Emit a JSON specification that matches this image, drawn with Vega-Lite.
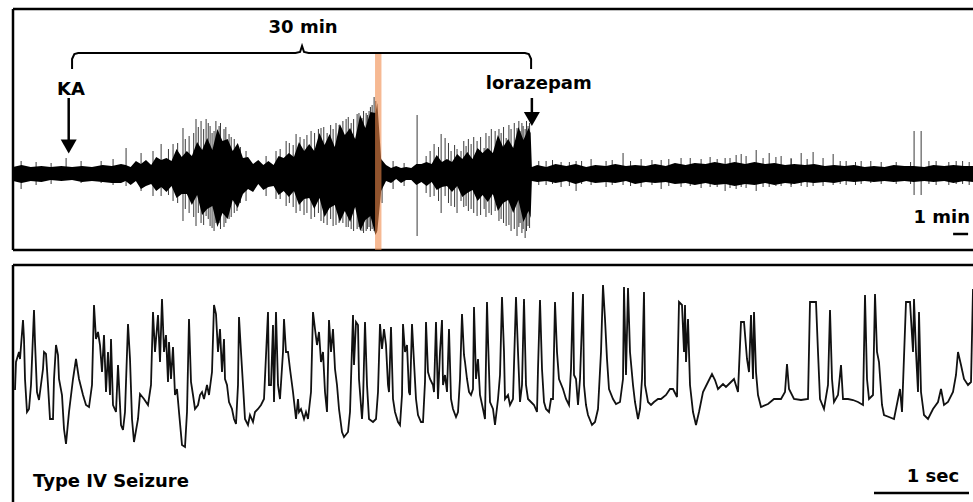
{
  "$schema": "https://vega.github.io/schema/vega-lite/v6.json",
  "background": "white",
  "padding": {"left": 11, "top": 7, "right": 0, "bottom": 0},
  "spacing": 11,
  "config": {"view": {"stroke": null}, "font": "DejaVu Sans"},
  "datasets": {
    "envelope": [
      {"t": -3.86, "hi": 6, "lo": -8}, {"t": -3.3, "hi": 8, "lo": -10}, {"t": -2.7, "hi": 6, "lo": -8}, {"t": -2.0, "hi": 7, "lo": -9},
      {"t": -1.4, "hi": 6, "lo": -7}, {"t": -0.7, "hi": 7, "lo": -8}, {"t": 0.0, "hi": 6, "lo": -7}, {"t": 0.65, "hi": 7, "lo": -9},
      {"t": 1.3, "hi": 6, "lo": -8}, {"t": 2.0, "hi": 8, "lo": -9}, {"t": 2.6, "hi": 7, "lo": -10}, {"t": 3.2, "hi": 9, "lo": -10},
      {"t": 3.5, "hi": 8, "lo": -8}, {"t": 3.83, "hi": 6, "lo": -12}, {"t": 4.17, "hi": 12, "lo": -8}, {"t": 4.5, "hi": 9, "lo": -16},
      {"t": 4.83, "hi": 13, "lo": -13}, {"t": 5.17, "hi": 8, "lo": -11}, {"t": 5.5, "hi": 16, "lo": -18}, {"t": 5.83, "hi": 13, "lo": -14},
      {"t": 6.17, "hi": 15, "lo": -19}, {"t": 6.5, "hi": 12, "lo": -13}, {"t": 6.83, "hi": 24, "lo": -25}, {"t": 7.17, "hi": 16, "lo": -21},
      {"t": 7.5, "hi": 22, "lo": -21}, {"t": 7.83, "hi": 17, "lo": -32}, {"t": 8.17, "hi": 31, "lo": -22}, {"t": 8.5, "hi": 23, "lo": -42},
      {"t": 8.83, "hi": 35, "lo": -36}, {"t": 9.17, "hi": 23, "lo": -33}, {"t": 9.5, "hi": 44, "lo": -54}, {"t": 9.83, "hi": 32, "lo": -40},
      {"t": 10.17, "hi": 34, "lo": -46}, {"t": 10.5, "hi": 22, "lo": -27}, {"t": 10.83, "hi": 30, "lo": -35}, {"t": 11.17, "hi": 15, "lo": -21},
      {"t": 11.5, "hi": 16, "lo": -16}, {"t": 11.83, "hi": 9, "lo": -19}, {"t": 12.17, "hi": 13, "lo": -11}, {"t": 12.5, "hi": 8, "lo": -17},
      {"t": 12.83, "hi": 12, "lo": -14}, {"t": 13.17, "hi": 8, "lo": -13}, {"t": 13.5, "hi": 17, "lo": -22}, {"t": 13.83, "hi": 15, "lo": -18},
      {"t": 14.17, "hi": 20, "lo": -24}, {"t": 14.5, "hi": 16, "lo": -18}, {"t": 14.83, "hi": 31, "lo": -32}, {"t": 15.17, "hi": 22, "lo": -26},
      {"t": 15.5, "hi": 29, "lo": -25}, {"t": 15.83, "hi": 22, "lo": -36}, {"t": 16.17, "hi": 40, "lo": -25}, {"t": 16.5, "hi": 28, "lo": -44},
      {"t": 16.83, "hi": 39, "lo": -35}, {"t": 17.17, "hi": 26, "lo": -32}, {"t": 17.5, "hi": 49, "lo": -49}, {"t": 17.83, "hi": 38, "lo": -38},
      {"t": 18.17, "hi": 45, "lo": -49}, {"t": 18.5, "hi": 34, "lo": -34}, {"t": 18.83, "hi": 58, "lo": -58}, {"t": 19.17, "hi": 45, "lo": -47},
      {"t": 19.5, "hi": 61, "lo": -43}, {"t": 19.83, "hi": 60, "lo": -62}, {"t": 19.95, "hi": 70, "lo": -58}, {"t": 20.2, "hi": 14, "lo": -18},
      {"t": 20.52, "hi": 8, "lo": -8}, {"t": 20.85, "hi": 5, "lo": -10}, {"t": 21.18, "hi": 7, "lo": -6}, {"t": 21.5, "hi": 5, "lo": -10},
      {"t": 21.83, "hi": 6, "lo": -7}, {"t": 22.17, "hi": 5, "lo": -7}, {"t": 22.5, "hi": 9, "lo": -12}, {"t": 22.83, "hi": 9, "lo": -9},
      {"t": 23.17, "hi": 11, "lo": -13}, {"t": 23.5, "hi": 9, "lo": -9}, {"t": 23.83, "hi": 18, "lo": -17}, {"t": 24.17, "hi": 11, "lo": -14},
      {"t": 24.5, "hi": 14, "lo": -13}, {"t": 24.83, "hi": 11, "lo": -19}, {"t": 25.17, "hi": 19, "lo": -13}, {"t": 25.5, "hi": 14, "lo": -24},
      {"t": 25.83, "hi": 21, "lo": -20}, {"t": 26.17, "hi": 14, "lo": -17}, {"t": 26.5, "hi": 25, "lo": -28}, {"t": 26.83, "hi": 20, "lo": -22},
      {"t": 27.17, "hi": 25, "lo": -29}, {"t": 27.5, "hi": 20, "lo": -21}, {"t": 27.83, "hi": 38, "lo": -38}, {"t": 28.17, "hi": 26, "lo": -30},
      {"t": 28.5, "hi": 34, "lo": -27}, {"t": 28.83, "hi": 25, "lo": -40}, {"t": 29.17, "hi": 46, "lo": -27}, {"t": 29.5, "hi": 33, "lo": -49},
      {"t": 29.83, "hi": 45, "lo": -38}, {"t": 29.97, "hi": 40, "lo": -45}, {"t": 30.05, "hi": 6, "lo": -8}, {"t": 30.4, "hi": 8, "lo": -9},
      {"t": 31.0, "hi": 6, "lo": -8}, {"t": 31.6, "hi": 9, "lo": -10}, {"t": 32.3, "hi": 7, "lo": -8}, {"t": 32.9, "hi": 9, "lo": -11},
      {"t": 33.6, "hi": 6, "lo": -8}, {"t": 34.2, "hi": 8, "lo": -10}, {"t": 34.9, "hi": 7, "lo": -9}, {"t": 35.5, "hi": 9, "lo": -10},
      {"t": 36.2, "hi": 7, "lo": -8}, {"t": 36.8, "hi": 8, "lo": -11}, {"t": 37.5, "hi": 7, "lo": -9}, {"t": 38.1, "hi": 9, "lo": -10},
      {"t": 38.8, "hi": 7, "lo": -9}, {"t": 39.4, "hi": 10, "lo": -11}, {"t": 40.1, "hi": 8, "lo": -10}, {"t": 40.7, "hi": 10, "lo": -12},
      {"t": 41.4, "hi": 9, "lo": -10}, {"t": 42.0, "hi": 11, "lo": -12}, {"t": 42.7, "hi": 9, "lo": -11}, {"t": 43.3, "hi": 11, "lo": -13},
      {"t": 44.0, "hi": 9, "lo": -11}, {"t": 44.6, "hi": 11, "lo": -12}, {"t": 45.3, "hi": 9, "lo": -10}, {"t": 45.9, "hi": 10, "lo": -12},
      {"t": 46.6, "hi": 8, "lo": -10}, {"t": 47.2, "hi": 9, "lo": -11}, {"t": 47.9, "hi": 8, "lo": -9}, {"t": 48.5, "hi": 9, "lo": -10},
      {"t": 49.2, "hi": 7, "lo": -9}, {"t": 49.8, "hi": 8, "lo": -10}, {"t": 50.5, "hi": 7, "lo": -8}, {"t": 51.1, "hi": 8, "lo": -9},
      {"t": 51.8, "hi": 6, "lo": -8}, {"t": 52.4, "hi": 7, "lo": -9}, {"t": 53.1, "hi": 6, "lo": -8}, {"t": 53.7, "hi": 8, "lo": -9},
      {"t": 54.4, "hi": 7, "lo": -8}, {"t": 55.0, "hi": 7, "lo": -9}, {"t": 55.7, "hi": 6, "lo": -8}, {"t": 56.3, "hi": 8, "lo": -9},
      {"t": 57.0, "hi": 7, "lo": -8}, {"t": 57.6, "hi": 8, "lo": -10}, {"t": 58.3, "hi": 7, "lo": -8}, {"t": 58.88, "hi": 7, "lo": -9}
    ],
    "spikes": [
      {"t": -3.33, "hi": 12, "lo": -16}, {"t": -2.35, "hi": 11, "lo": -12}, {"t": -1.37, "hi": 10, "lo": -11}, {"t": -0.39, "hi": 15, "lo": -6},
      {"t": 0.59, "hi": 12, "lo": -10}, {"t": 1.9, "hi": 12, "lo": -10}, {"t": 2.68, "hi": 14, "lo": -12}, {"t": 3.53, "hi": 25, "lo": -13},
      {"t": 4.51, "hi": 20, "lo": -18}, {"t": 5.29, "hi": 22, "lo": -23}, {"t": 5.82, "hi": 29, "lo": -23}, {"t": 6.6, "hi": 29, "lo": -28},
      {"t": 7.25, "hi": 45, "lo": -48}, {"t": 7.65, "hi": 37, "lo": -40}, {"t": 8.1, "hi": 54, "lo": -53}, {"t": 8.43, "hi": 52, "lo": -50},
      {"t": 8.76, "hi": 54, "lo": -43}, {"t": 9.02, "hi": 47, "lo": -53}, {"t": 9.28, "hi": 42, "lo": -58}, {"t": 9.61, "hi": 47, "lo": -50},
      {"t": 9.93, "hi": 44, "lo": -54}, {"t": 10.26, "hi": 39, "lo": -46}, {"t": 10.78, "hi": 27, "lo": -38}, {"t": 11.37, "hi": 22, "lo": -28},
      {"t": 12.68, "hi": 17, "lo": -23}, {"t": 13.33, "hi": 22, "lo": -26}, {"t": 13.99, "hi": 32, "lo": -33}, {"t": 14.64, "hi": 39, "lo": -40},
      {"t": 15.16, "hi": 34, "lo": -42}, {"t": 15.62, "hi": 42, "lo": -46}, {"t": 16.27, "hi": 45, "lo": -48}, {"t": 16.67, "hi": 40, "lo": -52},
      {"t": 17.06, "hi": 44, "lo": -53}, {"t": 17.45, "hi": 48, "lo": -50}, {"t": 17.91, "hi": 54, "lo": -54}, {"t": 18.24, "hi": 50, "lo": -56},
      {"t": 18.63, "hi": 59, "lo": -56}, {"t": 18.95, "hi": 55, "lo": -58}, {"t": 19.22, "hi": 60, "lo": -58}, {"t": 19.41, "hi": 62, "lo": -54},
      {"t": 19.61, "hi": 68, "lo": -56}, {"t": 19.74, "hi": 76, "lo": -58}, {"t": 20.26, "hi": 12, "lo": -30}, {"t": 20.98, "hi": 12, "lo": -16},
      {"t": 21.7, "hi": 10, "lo": -13}, {"t": 22.55, "hi": 58, "lo": -63}, {"t": 23.14, "hi": 17, "lo": -20}, {"t": 23.66, "hi": 29, "lo": -23},
      {"t": 24.12, "hi": 39, "lo": -40}, {"t": 24.38, "hi": 35, "lo": -23}, {"t": 24.77, "hi": 22, "lo": -33}, {"t": 25.16, "hi": 24, "lo": -40},
      {"t": 25.42, "hi": 22, "lo": -28}, {"t": 25.75, "hi": 27, "lo": -33}, {"t": 26.08, "hi": 29, "lo": -36}, {"t": 26.47, "hi": 32, "lo": -43},
      {"t": 26.93, "hi": 25, "lo": -36}, {"t": 27.25, "hi": 37, "lo": -40}, {"t": 27.65, "hi": 42, "lo": -38}, {"t": 28.04, "hi": 40, "lo": -46},
      {"t": 28.37, "hi": 35, "lo": -53}, {"t": 28.69, "hi": 44, "lo": -58}, {"t": 29.08, "hi": 45, "lo": -63}, {"t": 29.28, "hi": 42, "lo": -50},
      {"t": 29.48, "hi": 47, "lo": -56}, {"t": 29.61, "hi": 44, "lo": -65}, {"t": 29.8, "hi": 47, "lo": -53}, {"t": 30.98, "hi": 12, "lo": -12},
      {"t": 31.96, "hi": 11, "lo": -14}, {"t": 32.94, "hi": 12, "lo": -18}, {"t": 33.92, "hi": 14, "lo": -12}, {"t": 34.9, "hi": 12, "lo": -14},
      {"t": 36.01, "hi": 20, "lo": -12}, {"t": 37.19, "hi": 14, "lo": -14}, {"t": 38.5, "hi": 13, "lo": -16}, {"t": 39.8, "hi": 15, "lo": -14},
      {"t": 41.11, "hi": 14, "lo": -15}, {"t": 42.16, "hi": 14, "lo": -14}, {"t": 42.68, "hi": 15, "lo": -18}, {"t": 43.4, "hi": 18, "lo": -16},
      {"t": 43.73, "hi": 19, "lo": -14}, {"t": 44.05, "hi": 17, "lo": -15}, {"t": 44.71, "hi": 23, "lo": -18}, {"t": 45.16, "hi": 15, "lo": -14},
      {"t": 45.56, "hi": 20, "lo": -14}, {"t": 46.34, "hi": 17, "lo": -13}, {"t": 46.99, "hi": 15, "lo": -14}, {"t": 47.65, "hi": 20, "lo": -13},
      {"t": 48.04, "hi": 14, "lo": -14}, {"t": 48.43, "hi": 21, "lo": -13}, {"t": 49.08, "hi": 15, "lo": -13}, {"t": 49.74, "hi": 19, "lo": -12},
      {"t": 50.59, "hi": 12, "lo": -12}, {"t": 51.57, "hi": 12, "lo": -11}, {"t": 52.88, "hi": 11, "lo": -11}, {"t": 53.86, "hi": 11, "lo": -11},
      {"t": 55.03, "hi": 42, "lo": -22}, {"t": 55.49, "hi": 42, "lo": -22}, {"t": 56.47, "hi": 12, "lo": -12}, {"t": 57.78, "hi": 12, "lo": -11},
      {"t": 58.63, "hi": 11, "lo": -12},
      {"t": 6.3, "hi": 24, "lo": -22}, {"t": 6.9, "hi": 30, "lo": -30}, {"t": 7.4, "hi": 34, "lo": -36}, {"t": 7.95, "hi": 40, "lo": -44},
      {"t": 8.25, "hi": 46, "lo": -40}, {"t": 8.6, "hi": 44, "lo": -52}, {"t": 8.9, "hi": 50, "lo": -46}, {"t": 9.15, "hi": 40, "lo": -55},
      {"t": 9.4, "hi": 52, "lo": -50}, {"t": 9.7, "hi": 50, "lo": -56}, {"t": 10.05, "hi": 46, "lo": -50}, {"t": 10.4, "hi": 36, "lo": -44},
      {"t": 10.6, "hi": 34, "lo": -40}, {"t": 11.0, "hi": 26, "lo": -30}, {"t": 13.6, "hi": 24, "lo": -26}, {"t": 14.2, "hi": 30, "lo": -30},
      {"t": 14.45, "hi": 28, "lo": -34}, {"t": 14.9, "hi": 36, "lo": -38}, {"t": 15.35, "hi": 38, "lo": -40}, {"t": 15.85, "hi": 40, "lo": -44},
      {"t": 16.1, "hi": 44, "lo": -40}, {"t": 16.45, "hi": 46, "lo": -50}, {"t": 16.9, "hi": 48, "lo": -46}, {"t": 17.25, "hi": 50, "lo": -52},
      {"t": 17.7, "hi": 52, "lo": -50}, {"t": 18.05, "hi": 56, "lo": -54}, {"t": 18.4, "hi": 54, "lo": -58}, {"t": 18.75, "hi": 60, "lo": -54},
      {"t": 19.05, "hi": 62, "lo": -60}, {"t": 19.3, "hi": 58, "lo": -56}, {"t": 19.5, "hi": 66, "lo": -58}, {"t": 19.85, "hi": 72, "lo": -60},
      {"t": 23.4, "hi": 22, "lo": -24}, {"t": 23.95, "hi": 26, "lo": -28}, {"t": 24.6, "hi": 30, "lo": -30}, {"t": 25.0, "hi": 28, "lo": -34},
      {"t": 25.6, "hi": 32, "lo": -34}, {"t": 25.9, "hi": 34, "lo": -38}, {"t": 26.25, "hi": 36, "lo": -40}, {"t": 26.7, "hi": 36, "lo": -42},
      {"t": 27.05, "hi": 40, "lo": -44}, {"t": 27.4, "hi": 44, "lo": -42}, {"t": 27.9, "hi": 44, "lo": -48}, {"t": 28.2, "hi": 46, "lo": -50},
      {"t": 28.55, "hi": 48, "lo": -52}, {"t": 28.9, "hi": 50, "lo": -56}, {"t": 29.2, "hi": 52, "lo": -54}, {"t": 29.4, "hi": 50, "lo": -60},
      {"t": 29.7, "hi": 52, "lo": -58}, {"t": 29.9, "hi": 50, "lo": -55},
      {"t": 30.5, "hi": 12, "lo": -12}, {"t": 31.4, "hi": 13, "lo": -11}, {"t": 32.5, "hi": 11, "lo": -13}, {"t": 33.3, "hi": 12, "lo": -11},
      {"t": 35.3, "hi": 13, "lo": -12}, {"t": 36.5, "hi": 12, "lo": -13}, {"t": 37.9, "hi": 13, "lo": -12}, {"t": 39.0, "hi": 14, "lo": -13},
      {"t": 40.4, "hi": 15, "lo": -13}, {"t": 41.7, "hi": 16, "lo": -14}, {"t": 43.0, "hi": 15, "lo": -15}, {"t": 46.0, "hi": 16, "lo": -13},
      {"t": 47.0, "hi": 14, "lo": -12}, {"t": 50.2, "hi": 12, "lo": -11}, {"t": 51.2, "hi": 11, "lo": -12}, {"t": 52.2, "hi": 12, "lo": -10},
      {"t": 54.8, "hi": 11, "lo": -11}, {"t": 56.0, "hi": 12, "lo": -11}, {"t": 57.3, "hi": 11, "lo": -12}, {"t": 58.2, "hi": 12, "lo": -11}
    ],
    "brace": [
      {"o": 1, "t": 0, "y": 104}, {"o": 2, "t": 0, "y": 114}, {"o": 3, "t": 0.15, "y": 119}, {"o": 4, "t": 0.4, "y": 120},
      {"o": 5, "t": 14.6, "y": 120}, {"o": 6, "t": 14.9, "y": 121}, {"o": 7, "t": 15.03, "y": 127}, {"o": 8, "t": 15.16, "y": 121},
      {"o": 9, "t": 15.46, "y": 120}, {"o": 10, "t": 29.6, "y": 120}, {"o": 11, "t": 29.85, "y": 119}, {"o": 12, "t": 30, "y": 114},
      {"o": 13, "t": 30, "y": 104}
    ],
    "seizure": [
      {"s": 2, "v": 12}, {"s": 3, "v": 40}, {"s": 6, "v": 50}, {"s": 7, "v": 43}, {"s": 10, "v": 82}, {"s": 11, "v": 63}, {"s": 12, "v": 23},
      {"s": 14, "v": -10}, {"s": 16, "v": -7}, {"s": 18, "v": 17}, {"s": 21, "v": 92}, {"s": 22, "v": 60}, {"s": 24, "v": 10}, {"s": 26, "v": 2},
      {"s": 30, "v": 33}, {"s": 31, "v": 50}, {"s": 33, "v": 48}, {"s": 35, "v": 17}, {"s": 37, "v": -17}, {"s": 40, "v": -17}, {"s": 41, "v": 23},
      {"s": 43, "v": 57}, {"s": 45, "v": 47}, {"s": 46, "v": 23}, {"s": 49, "v": 7}, {"s": 51, "v": -27}, {"s": 53, "v": -42}, {"s": 56, "v": -10},
      {"s": 60, "v": 23}, {"s": 63, "v": 43}, {"s": 66, "v": 23}, {"s": 70, "v": 7}, {"s": 73, "v": -3}, {"s": 76, "v": -5}, {"s": 79, "v": 17},
      {"s": 81, "v": 97}, {"s": 83, "v": 63}, {"s": 85, "v": 70}, {"s": 87, "v": 57}, {"s": 89, "v": 30}, {"s": 91, "v": 67}, {"s": 93, "v": 10},
      {"s": 95, "v": 50}, {"s": 97, "v": 7}, {"s": 98, "v": 63}, {"s": 100, "v": -3}, {"s": 103, "v": -10}, {"s": 105, "v": 37}, {"s": 108, "v": -23},
      {"s": 110, "v": -28}, {"s": 112, "v": -10}, {"s": 115, "v": 78}, {"s": 117, "v": 43}, {"s": 119, "v": -17}, {"s": 121, "v": -40}, {"s": 125, "v": -17},
      {"s": 127, "v": 8}, {"s": 131, "v": 3}, {"s": 135, "v": -3}, {"s": 138, "v": 17}, {"s": 140, "v": 90}, {"s": 142, "v": 50}, {"s": 145, "v": 87},
      {"s": 147, "v": 40}, {"s": 149, "v": 103}, {"s": 151, "v": 50}, {"s": 153, "v": 67}, {"s": 155, "v": 20}, {"s": 156, "v": 60}, {"s": 158, "v": 23},
      {"s": 160, "v": 55}, {"s": 162, "v": 7}, {"s": 164, "v": 13}, {"s": 166, "v": -10}, {"s": 169, "v": -43}, {"s": 172, "v": -45}, {"s": 174, "v": -10},
      {"s": 176, "v": 83}, {"s": 178, "v": 20}, {"s": 180, "v": 7}, {"s": 182, "v": -7}, {"s": 185, "v": -3}, {"s": 187, "v": 7}, {"s": 189, "v": 10},
      {"s": 191, "v": 3}, {"s": 194, "v": 17}, {"s": 196, "v": 7}, {"s": 199, "v": 30}, {"s": 201, "v": 97}, {"s": 203, "v": 88}, {"s": 205, "v": 50},
      {"s": 207, "v": 73}, {"s": 209, "v": 30}, {"s": 211, "v": 63}, {"s": 212, "v": 23}, {"s": 214, "v": 17}, {"s": 216, "v": 0}, {"s": 219, "v": -7},
      {"s": 221, "v": -17}, {"s": 223, "v": -22}, {"s": 225, "v": 17}, {"s": 226, "v": 85}, {"s": 228, "v": 50}, {"s": 230, "v": 17}, {"s": 232, "v": -17},
      {"s": 235, "v": -23}, {"s": 237, "v": -13}, {"s": 240, "v": -20}, {"s": 242, "v": -10}, {"s": 245, "v": -7}, {"s": 248, "v": -3}, {"s": 251, "v": 3},
      {"s": 255, "v": 90}, {"s": 256, "v": 17}, {"s": 258, "v": 17}, {"s": 260, "v": 77}, {"s": 261, "v": 0}, {"s": 263, "v": 90}, {"s": 265, "v": 17},
      {"s": 267, "v": 3}, {"s": 270, "v": 50}, {"s": 271, "v": 83}, {"s": 273, "v": 50}, {"s": 275, "v": 50}, {"s": 277, "v": 33}, {"s": 280, "v": 10},
      {"s": 283, "v": -17}, {"s": 285, "v": 3}, {"s": 286, "v": -10}, {"s": 288, "v": -7}, {"s": 291, "v": -17}, {"s": 293, "v": -10}, {"s": 295, "v": -17},
      {"s": 298, "v": 10}, {"s": 300, "v": 90}, {"s": 302, "v": 73}, {"s": 304, "v": 57}, {"s": 306, "v": 70}, {"s": 308, "v": 40}, {"s": 310, "v": 50},
      {"s": 312, "v": 10}, {"s": 314, "v": -10}, {"s": 316, "v": 82}, {"s": 318, "v": 50}, {"s": 320, "v": 73}, {"s": 322, "v": 33}, {"s": 324, "v": 17},
      {"s": 326, "v": -7}, {"s": 329, "v": -30}, {"s": 331, "v": -35}, {"s": 335, "v": -30}, {"s": 337, "v": -10}, {"s": 340, "v": 87}, {"s": 341, "v": 37},
      {"s": 343, "v": 80}, {"s": 345, "v": 77}, {"s": 346, "v": 23}, {"s": 349, "v": -17}, {"s": 350, "v": 0}, {"s": 352, "v": 80}, {"s": 354, "v": 17},
      {"s": 356, "v": -17}, {"s": 360, "v": -20}, {"s": 363, "v": -17}, {"s": 365, "v": 10}, {"s": 367, "v": 78}, {"s": 369, "v": 53}, {"s": 371, "v": 73},
      {"s": 373, "v": 57}, {"s": 375, "v": 17}, {"s": 376, "v": 10}, {"s": 378, "v": 75}, {"s": 380, "v": 3}, {"s": 382, "v": -10}, {"s": 385, "v": -20},
      {"s": 387, "v": -23}, {"s": 389, "v": 7}, {"s": 390, "v": 78}, {"s": 392, "v": 50}, {"s": 394, "v": 57}, {"s": 396, "v": 10}, {"s": 397, "v": 7},
      {"s": 399, "v": 78}, {"s": 401, "v": 40}, {"s": 403, "v": 3}, {"s": 405, "v": -13}, {"s": 408, "v": -20}, {"s": 410, "v": -20}, {"s": 412, "v": 20},
      {"s": 413, "v": 80}, {"s": 415, "v": 30}, {"s": 417, "v": 23}, {"s": 420, "v": 17}, {"s": 421, "v": 10}, {"s": 423, "v": 80}, {"s": 425, "v": 3},
      {"s": 427, "v": 50}, {"s": 429, "v": 82}, {"s": 430, "v": 17}, {"s": 432, "v": 27}, {"s": 434, "v": 10}, {"s": 436, "v": 73}, {"s": 438, "v": 3},
      {"s": 440, "v": -7}, {"s": 443, "v": -15}, {"s": 445, "v": -10}, {"s": 447, "v": 23}, {"s": 449, "v": 88}, {"s": 451, "v": 47}, {"s": 452, "v": 40},
      {"s": 454, "v": 23}, {"s": 456, "v": 10}, {"s": 458, "v": 7}, {"s": 460, "v": 13}, {"s": 461, "v": 95}, {"s": 463, "v": 23}, {"s": 465, "v": 43},
      {"s": 467, "v": 7}, {"s": 470, "v": -7}, {"s": 472, "v": -17}, {"s": 474, "v": 100}, {"s": 475, "v": 63}, {"s": 477, "v": 0}, {"s": 480, "v": -7},
      {"s": 482, "v": -23}, {"s": 485, "v": 3}, {"s": 487, "v": 27}, {"s": 489, "v": 105}, {"s": 491, "v": 50}, {"s": 492, "v": 3}, {"s": 495, "v": 7},
      {"s": 497, "v": -3}, {"s": 500, "v": 3}, {"s": 501, "v": 37}, {"s": 503, "v": 105}, {"s": 505, "v": 50}, {"s": 507, "v": 0}, {"s": 509, "v": 17},
      {"s": 511, "v": 103}, {"s": 513, "v": 17}, {"s": 515, "v": 3}, {"s": 518, "v": 0}, {"s": 521, "v": -3}, {"s": 524, "v": -10}, {"s": 525, "v": 33},
      {"s": 527, "v": 102}, {"s": 529, "v": 33}, {"s": 531, "v": 0}, {"s": 533, "v": -7}, {"s": 536, "v": -10}, {"s": 538, "v": 3}, {"s": 540, "v": 3},
      {"s": 542, "v": 100}, {"s": 544, "v": 50}, {"s": 546, "v": 23}, {"s": 550, "v": 13}, {"s": 553, "v": 3}, {"s": 556, "v": -3}, {"s": 558, "v": 33},
      {"s": 560, "v": 110}, {"s": 561, "v": 27}, {"s": 563, "v": 23}, {"s": 565, "v": -3}, {"s": 567, "v": 23}, {"s": 570, "v": 108}, {"s": 571, "v": 17},
      {"s": 573, "v": -3}, {"s": 575, "v": -13}, {"s": 579, "v": -23}, {"s": 582, "v": -20}, {"s": 585, "v": -7}, {"s": 588, "v": 50}, {"s": 590, "v": 117},
      {"s": 592, "v": 83}, {"s": 594, "v": 43}, {"s": 596, "v": 13}, {"s": 600, "v": 3}, {"s": 603, "v": -2}, {"s": 607, "v": 0}, {"s": 610, "v": 23},
      {"s": 611, "v": 115}, {"s": 613, "v": 27}, {"s": 615, "v": 114}, {"s": 617, "v": 50}, {"s": 620, "v": 17}, {"s": 622, "v": 0}, {"s": 625, "v": -17},
      {"s": 627, "v": -7}, {"s": 629, "v": 23}, {"s": 631, "v": 110}, {"s": 632, "v": 17}, {"s": 635, "v": 0}, {"s": 638, "v": -3}, {"s": 641, "v": 0},
      {"s": 645, "v": 3}, {"s": 648, "v": 3}, {"s": 653, "v": 7}, {"s": 657, "v": 13}, {"s": 660, "v": 13}, {"s": 664, "v": 5}, {"s": 666, "v": 100},
      {"s": 669, "v": 97}, {"s": 671, "v": 50}, {"s": 672, "v": 97}, {"s": 673, "v": 40}, {"s": 675, "v": 83}, {"s": 677, "v": 17}, {"s": 680, "v": -10},
      {"s": 683, "v": -23}, {"s": 686, "v": -10}, {"s": 690, "v": 10}, {"s": 695, "v": 20}, {"s": 699, "v": 28}, {"s": 702, "v": 22}, {"s": 705, "v": 13},
      {"s": 710, "v": 18}, {"s": 713, "v": 15}, {"s": 718, "v": 20}, {"s": 721, "v": 23}, {"s": 725, "v": 10}, {"s": 728, "v": 80}, {"s": 731, "v": 80},
      {"s": 734, "v": 43}, {"s": 736, "v": 30}, {"s": 738, "v": 87}, {"s": 740, "v": 23}, {"s": 741, "v": 90}, {"s": 743, "v": 30}, {"s": 745, "v": 7},
      {"s": 748, "v": -5}, {"s": 755, "v": -2}, {"s": 761, "v": 3}, {"s": 768, "v": 3}, {"s": 772, "v": 10}, {"s": 774, "v": 38}, {"s": 776, "v": 13},
      {"s": 781, "v": 3}, {"s": 788, "v": 2}, {"s": 795, "v": 3}, {"s": 797, "v": 100}, {"s": 803, "v": 100}, {"s": 805, "v": 50}, {"s": 807, "v": 3},
      {"s": 811, "v": -7}, {"s": 815, "v": 17}, {"s": 817, "v": 92}, {"s": 819, "v": 23}, {"s": 821, "v": 0}, {"s": 825, "v": 7}, {"s": 828, "v": 37},
      {"s": 830, "v": 3}, {"s": 835, "v": 3}, {"s": 840, "v": 2}, {"s": 845, "v": 0}, {"s": 850, "v": -3}, {"s": 852, "v": 107}, {"s": 854, "v": 23},
      {"s": 856, "v": 3}, {"s": 860, "v": 7}, {"s": 862, "v": 108}, {"s": 864, "v": 50}, {"s": 866, "v": 40}, {"s": 869, "v": -3}, {"s": 871, "v": -13},
      {"s": 876, "v": -15}, {"s": 881, "v": -17}, {"s": 885, "v": 3}, {"s": 887, "v": 13}, {"s": 889, "v": -10}, {"s": 893, "v": 100}, {"s": 897, "v": 100},
      {"s": 900, "v": 50}, {"s": 901, "v": 103}, {"s": 903, "v": 50}, {"s": 905, "v": 10}, {"s": 906, "v": 90}, {"s": 908, "v": 10}, {"s": 911, "v": -13},
      {"s": 915, "v": -17}, {"s": 920, "v": -7}, {"s": 925, "v": 0}, {"s": 928, "v": 13}, {"s": 931, "v": -3}, {"s": 935, "v": 0}, {"s": 940, "v": 10},
      {"s": 943, "v": 27}, {"s": 945, "v": 50}, {"s": 948, "v": 37}, {"s": 951, "v": 23}, {"s": 955, "v": 17}, {"s": 958, "v": 20}, {"s": 960, "v": 113}
    ]
  },
  "vconcat": [
    {
      "width": 960,
      "height": 241,
      "encoding": {
        "x": {"type": "quantitative", "scale": {"domain": [-3.86, 58.88], "nice": false, "zero": false}, "axis": null},
        "y": {"type": "quantitative", "scale": {"domain": [-77, 164], "nice": false, "zero": false}, "axis": null}
      },
      "layer": [
        {
          "data": {"values": [
            {"t1": -3.86, "t2": 58.88, "y1": 164, "y2": 164},
            {"t1": -3.86, "t2": 58.88, "y1": -77, "y2": -77},
            {"t1": -3.86, "t2": -3.86, "y1": -77, "y2": 164}
          ]},
          "mark": {"type": "rule", "color": "black", "strokeWidth": 2.5},
          "encoding": {"x": {"field": "t1", "type": "quantitative"}, "x2": {"field": "t2"}, "y": {"field": "y1", "type": "quantitative"}, "y2": {"field": "y2"}}
        },
        {
          "data": {"name": "spikes"},
          "mark": {"type": "rule", "color": "#3a3a3a", "strokeWidth": 1},
          "encoding": {"x": {"field": "t", "type": "quantitative"}, "y": {"field": "hi", "type": "quantitative"}, "y2": {"field": "lo"}}
        },
        {
          "data": {"name": "envelope"},
          "mark": {"type": "area", "color": "black", "opacity": 1},
          "encoding": {"x": {"field": "t", "type": "quantitative"}, "y": {"field": "hi", "type": "quantitative"}, "y2": {"field": "lo"}}
        },
        {
          "data": {"values": [{"t1": 19.8, "t2": 20.22, "top": 120, "bottom": -77}]},
          "mark": {"type": "rect", "color": "#F08A4B", "opacity": 0.6},
          "encoding": {"x": {"field": "t1", "type": "quantitative"}, "x2": {"field": "t2"}, "y": {"field": "top", "type": "quantitative"}, "y2": {"field": "bottom"}}
        },
        {
          "data": {"name": "brace"},
          "mark": {"type": "line", "color": "black", "strokeWidth": 2},
          "encoding": {"x": {"field": "t", "type": "quantitative"}, "y": {"field": "y", "type": "quantitative"}, "order": {"field": "o"}}
        },
        {
          "data": {"values": [
            {"t": -0.22, "y1": 75, "y2": 32},
            {"t": 30.05, "y1": 75, "y2": 59}
          ]},
          "mark": {"type": "rule", "color": "black", "strokeWidth": 2.5},
          "encoding": {"x": {"field": "t", "type": "quantitative"}, "y": {"field": "y1", "type": "quantitative"}, "y2": {"field": "y2"}}
        },
        {
          "data": {"values": [
            {"t": -0.22, "y": 26.5},
            {"t": 30.05, "y": 54}
          ]},
          "mark": {"type": "point", "shape": "triangle-down", "filled": true, "color": "black", "size": 256, "opacity": 1, "strokeWidth": 0},
          "encoding": {"x": {"field": "t", "type": "quantitative"}, "y": {"field": "y", "type": "quantitative"}}
        },
        {
          "data": {"values": [
            {"t": 15.1, "y": 140, "label": "30 min"},
            {"t": -0.07, "y": 78, "label": "KA"},
            {"t": 30.5, "y": 84, "label": "lorazepam"}
          ]},
          "mark": {"type": "text", "font": "DejaVu Sans", "fontWeight": "bold", "fontSize": 18, "align": "center", "baseline": "alphabetic", "color": "black"},
          "encoding": {"x": {"field": "t", "type": "quantitative"}, "y": {"field": "y", "type": "quantitative"}, "text": {"field": "label"}}
        },
        {
          "data": {"values": [{"t": 58.69, "y": -50, "label": "1 min"}]},
          "mark": {"type": "text", "font": "DejaVu Sans", "fontWeight": "bold", "fontSize": 18, "align": "right", "baseline": "alphabetic", "color": "black"},
          "encoding": {"x": {"field": "t", "type": "quantitative"}, "y": {"field": "y", "type": "quantitative"}, "text": {"field": "label"}}
        },
        {
          "data": {"values": [{"t1": 57.58, "t2": 58.56, "y": -61}]},
          "mark": {"type": "rule", "color": "black", "strokeWidth": 2.5},
          "encoding": {"x": {"field": "t1", "type": "quantitative"}, "x2": {"field": "t2"}, "y": {"field": "y", "type": "quantitative"}}
        }
      ]
    },
    {
      "width": 960,
      "height": 238,
      "encoding": {
        "x": {"type": "quantitative", "scale": {"domain": [0, 960], "nice": false, "zero": false}, "axis": null},
        "y": {"type": "quantitative", "scale": {"domain": [-101, 137], "nice": false, "zero": false}, "axis": null}
      },
      "layer": [
        {
          "data": {"values": [
            {"s1": 0, "s2": 960, "y1": 137, "y2": 137},
            {"s1": 0, "s2": 0, "y1": -101, "y2": 137}
          ]},
          "mark": {"type": "rule", "color": "black", "strokeWidth": 2.5},
          "encoding": {"x": {"field": "s1", "type": "quantitative"}, "x2": {"field": "s2"}, "y": {"field": "y1", "type": "quantitative"}, "y2": {"field": "y2"}}
        },
        {
          "data": {"name": "seizure"},
          "mark": {"type": "line", "color": "#111111", "strokeWidth": 1.8, "strokeJoin": "miter"},
          "encoding": {"x": {"field": "s", "type": "quantitative"}, "y": {"field": "v", "type": "quantitative"}}
        },
        {
          "data": {"values": [{"s": 20, "y": -85, "label": "Type IV Seizure"}]},
          "mark": {"type": "text", "font": "DejaVu Sans", "fontWeight": "bold", "fontSize": 18, "align": "left", "baseline": "alphabetic", "color": "black"},
          "encoding": {"x": {"field": "s", "type": "quantitative"}, "y": {"field": "y", "type": "quantitative"}, "text": {"field": "label"}}
        },
        {
          "data": {"values": [{"s": 920, "y": -80, "label": "1 sec"}]},
          "mark": {"type": "text", "font": "DejaVu Sans", "fontWeight": "bold", "fontSize": 18, "align": "center", "baseline": "alphabetic", "color": "black"},
          "encoding": {"x": {"field": "s", "type": "quantitative"}, "y": {"field": "y", "type": "quantitative"}, "text": {"field": "label"}}
        },
        {
          "data": {"values": [{"s1": 861, "s2": 956, "y": -91}]},
          "mark": {"type": "rule", "color": "black", "strokeWidth": 2.5},
          "encoding": {"x": {"field": "s1", "type": "quantitative"}, "x2": {"field": "s2"}, "y": {"field": "y", "type": "quantitative"}}
        }
      ]
    }
  ]
}
